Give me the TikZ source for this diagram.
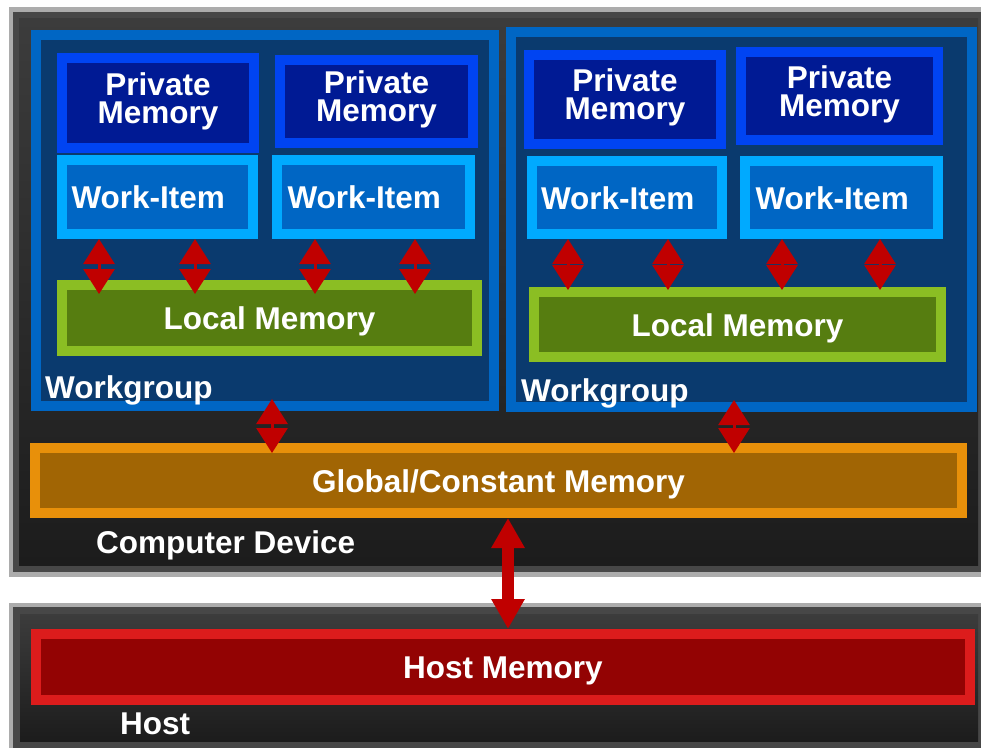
\documentclass[tikz,border=0pt]{standalone}
\usepackage{fontspec}
\setmainfont{Liberation Sans}
\usetikzlibrary{arrows.meta}

\definecolor{frameLight}{HTML}{ACACAC}
\definecolor{frameMid}{HTML}{474747}
\definecolor{frameTop}{HTML}{3C3C3C}
\definecolor{frameBot}{HTML}{1C1C1C}
\definecolor{wgEdge}{HTML}{0066C4}
\definecolor{wgFill}{HTML}{0A3A6E}
\definecolor{pmEdge}{HTML}{0044F2}
\definecolor{pmFill}{HTML}{001A94}
\definecolor{wiEdge}{HTML}{00AAFF}
\definecolor{wiFill}{HTML}{0066C4}
\definecolor{lmEdge}{HTML}{8BBE23}
\definecolor{lmFill}{HTML}{567D10}
\definecolor{gmEdge}{HTML}{E8900A}
\definecolor{gmFill}{HTML}{A16504}
\definecolor{hmEdge}{HTML}{DC1C1C}
\definecolor{hmFill}{HTML}{930303}
\definecolor{arrowRed}{HTML}{C00000}

\begin{document}
\begin{tikzpicture}[x=1pt, y=-1pt,
    every node/.style={text=white, inner sep=0pt, font=\bfseries\fontsize{31.5}{26}\selectfont},
    membox/.style={rectangle, line width=10pt, text height=23pt, text depth=0pt},
    groupbox/.style={rectangle, line width=10pt, draw=wgEdge, fill=wgFill},
    privbox/.style={membox, draw=pmEdge, fill=pmFill, align=center, text height=48.6pt, text depth=8pt},
    itembox/.style={membox, draw=wiEdge, fill=wiFill, text width=172pt, align=left, inner xsep=9pt},
    localbox/.style={membox, draw=lmEdge, fill=lmFill},
    globalbox/.style={membox, draw=gmEdge, fill=gmFill},
    hostbox/.style={membox, draw=hmEdge, fill=hmFill},
    memarrow/.style={draw=arrowRed, line width=3pt, arrows={Triangle[length=25pt,width=31pt]-Triangle[length=25pt,width=31pt]}},
    busarrow/.style={draw=arrowRed, line width=11.5pt, arrows={Triangle[length=30pt,width=31.5pt]-Triangle[length=30pt,width=31.5pt]}}]

    \useasboundingbox (0,0) rectangle (981,747);
    \fill[white] (0,0) rectangle (981,747);

    % device and host frames
    \fill[frameLight] (9,7) rectangle (995,577);
    \fill[frameMid] (13,12) rectangle (990,572);
    \shade[top color=frameTop, bottom color=frameBot] (19,18) rectangle (978,565);
    \fill[frameLight] (9,603) rectangle (995,760);
    \fill[frameMid] (13,607) rectangle (990,755);
    \shade[top color=frameTop, bottom color=frameBot] (20,614) rectangle (978,741);

    % workgroups
    \node[groupbox, minimum width=458pt, minimum height=371pt] (wg1) at (265,220.5) {};
    \node[groupbox, minimum width=461pt, minimum height=375pt] (wg2) at (741.5,219.5) {};

    \node[privbox, minimum width=192pt, minimum height=90pt] (pm11) at (158,103) {Private\\[2pt]Memory};
    \node[privbox, minimum width=193pt, minimum height=83pt] (pm12) at (376.5,101.5) {Private\\[2pt]Memory};
    \node[privbox, minimum width=192pt, minimum height=89pt] (pm21) at (625,99.5) {Private\\[2pt]Memory};
    \node[privbox, minimum width=197pt, minimum height=88pt] (pm22) at (839.5,96) {Private\\[2pt]Memory};

    \node[itembox, minimum width=191pt, minimum height=74pt] (wi11) at (157.5,197) {Work-Item};
    \node[itembox, minimum width=193pt, minimum height=74pt] (wi12) at (373.5,197) {Work-Item};
    \node[itembox, minimum width=190pt, minimum height=73pt] (wi21) at (627,197.5) {Work-Item};
    \node[itembox, minimum width=193pt, minimum height=73pt] (wi22) at (841.5,197.5) {Work-Item};

    \node[localbox, minimum width=415pt, minimum height=66pt] (lm1) at (269.5,318) {Local Memory};
    \node[localbox, minimum width=407pt, minimum height=65pt] (lm2) at (737.5,324.5) {Local Memory};

    \node[anchor=base west] (wg1lbl) at (45,398) {Workgroup};
    \node[anchor=base west] (wg2lbl) at (521,401) {Workgroup};

    % global and host memory
    \node[globalbox, minimum width=927pt, minimum height=65pt] (gm) at (498.5,480.5) {Global/Constant Memory};
    \node[anchor=base west] (devlbl) at (96,553) {Computer Device};

    \node[hostbox, minimum width=934pt, minimum height=66pt] (hm) at (503,667) {Host Memory};
    \node[anchor=base west] (hostlbl) at (120,734) {Host};

    % work-items <-> local memory
    \begin{scope}[shorten >=-14pt]
        \draw[memarrow] ([xshift=42pt]wi11.south west) -- ([xshift=42pt]wi11.south west |- lm1.north);
        \draw[memarrow] ([xshift=138pt]wi11.south west) -- ([xshift=138pt]wi11.south west |- lm1.north);
        \draw[memarrow] ([xshift=43pt]wi12.south west) -- ([xshift=43pt]wi12.south west |- lm1.north);
        \draw[memarrow] ([xshift=143pt]wi12.south west) -- ([xshift=143pt]wi12.south west |- lm1.north);
    \end{scope}
    \begin{scope}[shorten >=-3pt]
        \draw[memarrow] ([xshift=41pt]wi21.south west) -- ([xshift=41pt]wi21.south west |- lm2.north);
        \draw[memarrow] ([xshift=141pt]wi21.south west) -- ([xshift=141pt]wi21.south west |- lm2.north);
        \draw[memarrow] ([xshift=42pt]wi22.south west) -- ([xshift=42pt]wi22.south west |- lm2.north);
        \draw[memarrow] ([xshift=140pt]wi22.south west) -- ([xshift=140pt]wi22.south west |- lm2.north);
    \end{scope}

    % workgroups <-> global memory
    \begin{scope}[shorten <=-12pt, shorten >=-10pt]
        \draw[memarrow] ([xshift=241pt]wg1.south west) -- ([xshift=241pt]wg1.south west |- gm.north);
        \draw[memarrow] ([xshift=228pt]wg2.south west) -- ([xshift=228pt]wg2.south west |- gm.north);
    \end{scope}

    % device <-> host
    \draw[busarrow] ([xshift=9.5pt]gm.south) -- ([xshift=5pt]hm.north);
\end{tikzpicture}
\end{document}
